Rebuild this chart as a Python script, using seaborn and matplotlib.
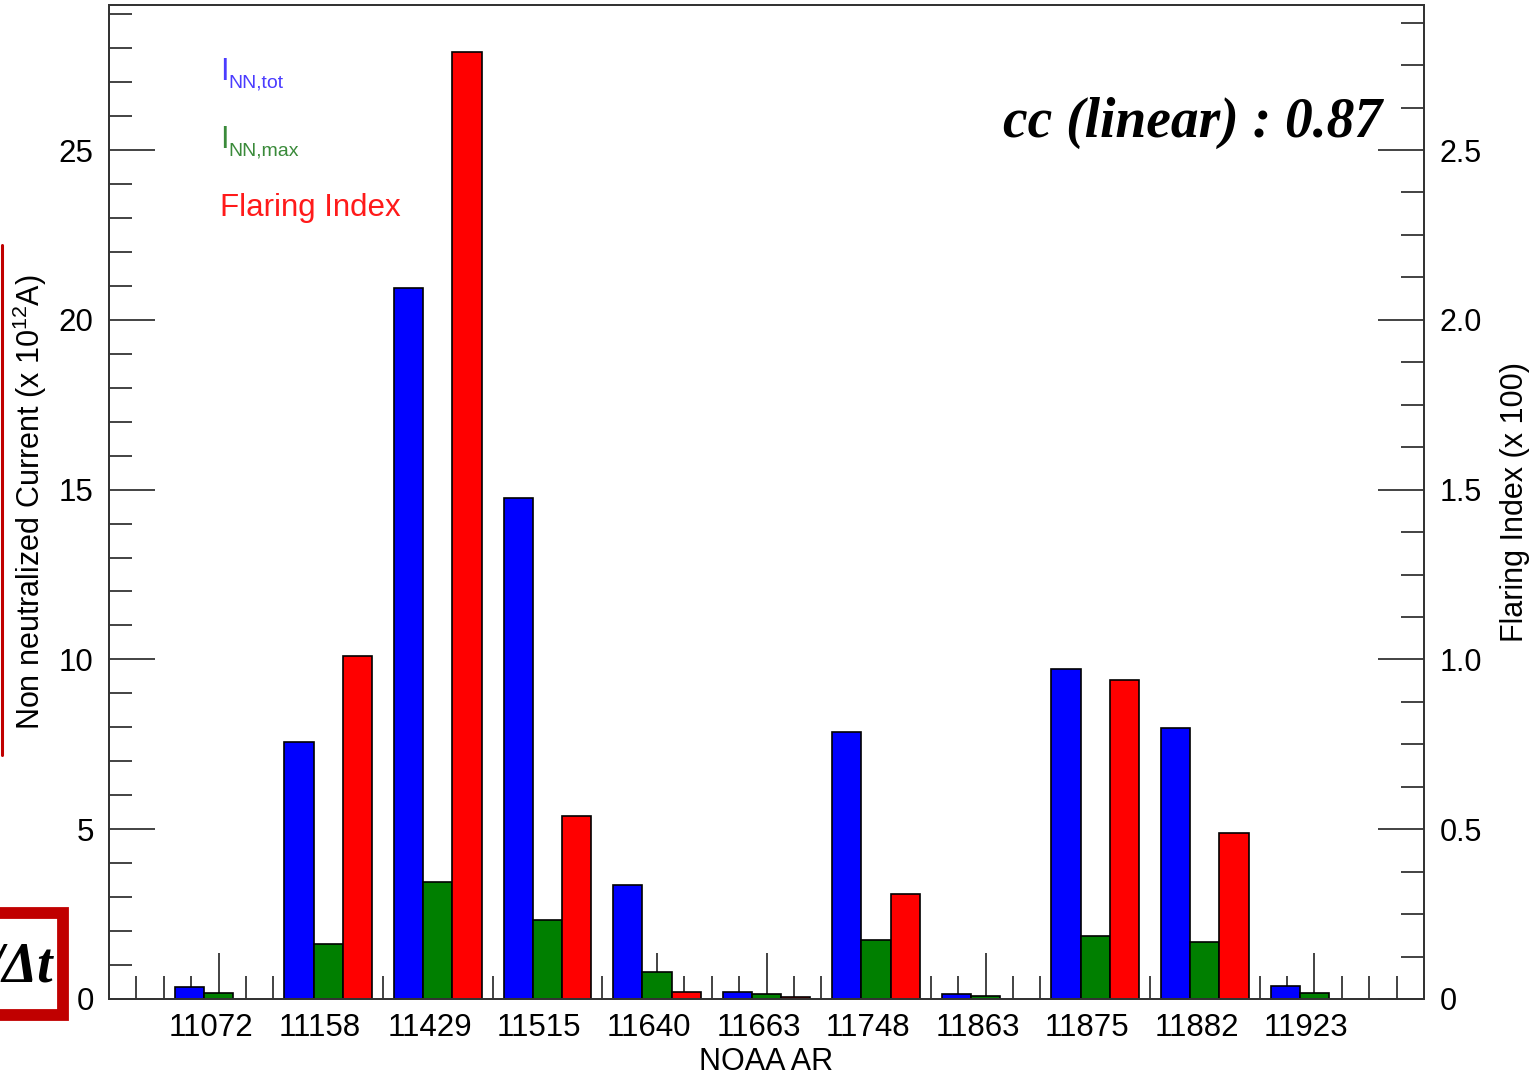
import numpy as np
import pandas as pd
import matplotlib
matplotlib.use("Agg")
import matplotlib.pyplot as plt
import matplotlib.transforms as mtransforms
from matplotlib.patches import Rectangle
from matplotlib.ticker import MultipleLocator, FuncFormatter
import seaborn as sns

# ================= data =================
regions = ['11072', '11158', '11429', '11515', '11640', '11663',
           '11748', '11863', '11875', '11882', '11923']
i_nn_tot = [0.35, 7.57, 20.94, 14.75, 3.37, 0.20, 7.86, 0.15, 9.72, 7.98, 0.38]
i_nn_max = [0.19, 1.63, 3.45, 2.33, 0.80, 0.14, 1.73, 0.09, 1.86, 1.68, 0.18]
# flaring index (x 100), right axis
flaring_index = [np.nan, 1.01, 2.79, 0.54, 0.02, 0.006, 0.31, np.nan, 0.94, 0.49, np.nan]
series_names = ['I_NN,tot', 'I_NN,max', 'Flaring Index']
bar_colors = ['#0000ff', '#007f00', '#ff0000']
cc_text = 'cc (linear) : 0.87'

# right axis = left axis / 10
FLARE_SCALE = 10.0
Y_TOP = 29.27

df = pd.DataFrame({
    'ar': regions * 3,
    'series': [series_names[0]] * len(regions) + [series_names[1]] * len(regions)
              + [series_names[2]] * len(regions),
    'value': i_nn_tot + i_nn_max + [v * FLARE_SCALE for v in flaring_index],
})

# ================= style =================
sns.set_theme(style="ticks")
plt.rcParams['font.family'] = ['Liberation Sans', 'DejaVu Sans']
plt.rcParams['mathtext.fontset'] = 'custom'
plt.rcParams['mathtext.rm'] = 'Liberation Sans'
plt.rcParams['text.color'] = 'black'
plt.rcParams['axes.labelcolor'] = 'black'
plt.rcParams['xtick.color'] = 'black'
plt.rcParams['ytick.color'] = 'black'

W, H = 1537, 1081
fig = plt.figure(figsize=(W / 100, H / 100), dpi=100)
ax = fig.add_axes([109 / W, 1 - 999 / H, (1424 - 109) / W, (999 - 5) / H])

sns.barplot(data=df, x='ar', y='value', hue='series', hue_order=series_names,
            palette=bar_colors, saturation=1, width=0.8, errorbar=None,
            edgecolor='black', linewidth=1.2, legend=False, ax=ax)

ax.set_xlim(-1, 11)
ax.set_ylim(0, Y_TOP)
ax.yaxis.set_major_locator(MultipleLocator(5))
ax.yaxis.set_minor_locator(MultipleLocator(1))
ax.xaxis.set_minor_locator(MultipleLocator(0.25))
ax.tick_params(which='both', direction='in', width=1.2, color='#222222',
               labelsize=22.5, labelcolor='black', top=False, right=False)
ax.tick_params(which='major', length=33)
ax.tick_params(which='minor', length=16.5)
ax.tick_params(axis='y', pad=11)
ax.tick_params(axis='x', pad=10)

# x labels sit a little left of the ticks
shift = mtransforms.ScaledTranslation(-8 / 100, 0, fig.dpi_scale_trans)
for lab in ax.get_xticklabels():
    lab.set_transform(lab.get_transform() + shift)

ax.set_xlabel('NOAA AR', fontsize=22, labelpad=3)
ax.set_ylabel('Non neutralized Current (x 10$^{12}$A)', fontsize=22)
ax.yaxis.label.set_va('center')
ax.yaxis.set_label_coords((30 - 109) / 1315, 0.5)

for sp in ax.spines.values():
    sp.set_visible(True)
    sp.set_linewidth(1.3)
    sp.set_color('#333333')

# right axis: flaring index
ax2 = ax.twinx()
ax2.set_ylim(0, Y_TOP / FLARE_SCALE)
ax2.yaxis.set_major_locator(MultipleLocator(0.5))
ax2.yaxis.set_minor_locator(MultipleLocator(0.125))
ax2.yaxis.set_major_formatter(FuncFormatter(lambda v, p: '0' if v == 0 else f'{v:.1f}'))
ax2.tick_params(which='both', direction='in', width=1.2, color='#222222',
                labelsize=22, labelcolor='black', pad=11)
ax2.tick_params(which='major', length=33)
ax2.tick_params(which='minor', length=16.5)
ax2.set_ylabel('Flaring Index (x 100)', fontsize=22)
ax2.yaxis.label.set_va('center')
ax2.yaxis.set_label_coords((1515 - 109) / 1315, 0.5)
for sp in ax2.spines.values():
    sp.set_linewidth(1.3)
    sp.set_color('#333333')

# ================= legend texts =================
leg_tot = '#4b3cff'
leg_max = '#3a8a3a'
fig.text(220 / W, 1 - 80 / H, 'I', fontsize=22, color=leg_tot, va='baseline')
fig.text(228 / W, 1 - 87 / H, 'NN,tot', fontsize=14, color=leg_tot, va='baseline')
fig.text(220 / W, 1 - 148 / H, 'I', fontsize=22, color=leg_max, va='baseline')
fig.text(228 / W, 1 - 155 / H, 'NN,max', fontsize=14, color=leg_max, va='baseline')
fig.text(220 / W, 1 - 216 / H, 'Flaring Index', fontsize=22.5, color='#ff1a1a', va='baseline')

fig.text(1382 / W, 1 - 137 / H, cc_text, fontsize=40, family='Liberation Serif',
         weight='bold', style='italic', ha='right', va='baseline')

# ================= red highlight marks at the left edge =================
fig.add_artist(plt.Line2D([1.5 / W, 1.5 / W], [1 - 245 / H, 1 - 755 / H],
                          transform=fig.transFigure, color='#c00000', lw=2.2))
fig.add_artist(Rectangle((-30 / W, 1 - 1015 / H), (62.5 + 30) / W, (1015 - 913) / H,
                         transform=fig.transFigure, facecolor='white',
                         edgecolor='#c00000', lw=8.5))
fig.text(53 / W, 1 - 982 / H, '/Δt', fontsize=40, family='Liberation Serif',
         weight='bold', style='italic', ha='right', va='baseline')

fig.savefig('out.png', dpi=100)
